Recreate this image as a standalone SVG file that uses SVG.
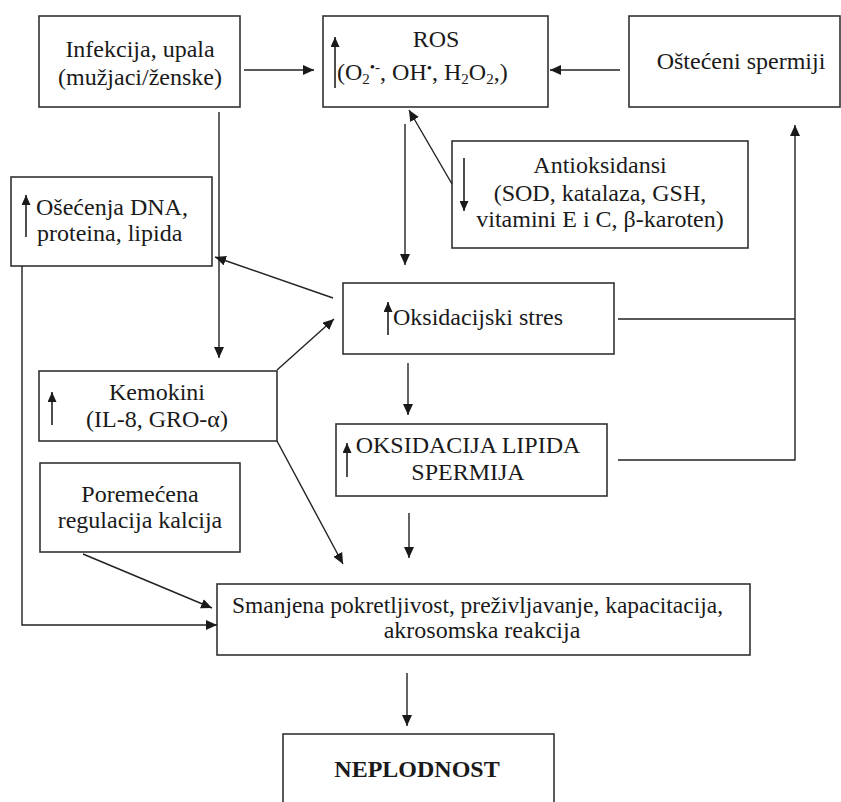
<svg xmlns="http://www.w3.org/2000/svg" width="841" height="802" viewBox="0 0 841 802">
<defs>
<marker id="ah" markerUnits="userSpaceOnUse" markerWidth="11" markerHeight="10" refX="11" refY="5" orient="auto">
<path d="M0,0 L11,5 L0,10 z" fill="#1a1a1a"/>
</marker>
<marker id="sh" markerUnits="userSpaceOnUse" markerWidth="10" markerHeight="9" refX="10" refY="4.5" orient="auto">
<path d="M0,0 L10,4.5 L0,9 z" fill="#1a1a1a"/>
</marker>
<style>
.box{fill:#fff;stroke:#333;stroke-width:1.6}
text{font-family:'Liberation Serif','DejaVu Serif',serif;font-size:24px;fill:#1a1a1a}
.m{text-anchor:middle}
.b{font-weight:bold}
.c{fill:none;stroke:#222;stroke-width:1.4}
.ia{fill:none;stroke:#222;stroke-width:1.6;marker-end:url(#sh)}
.sub{font-size:15px}
</style>
</defs>
<rect width="841" height="802" fill="#fff"/>

<g id="infekcija" font-family="Liberation Serif, serif">
<rect class="box" x="39" y="16" width="201" height="91"/>
<text class="m" x="140" y="57">Infekcija, upala</text>
<text class="m" x="140" y="85">(mužjaci/ženske)</text>
</g>

<g id="ros">
<rect class="box" x="323" y="16" width="225" height="91"/>
<line class="ia" x1="335" y1="88" x2="335" y2="37"/>
<text class="m" x="436" y="47">ROS</text>
<text x="337" y="80">(O<tspan class="sub" dy="4">2</tspan><tspan class="sub" dy="-12">•-</tspan><tspan dy="8">, OH</tspan><tspan class="sub" dy="-7">•</tspan><tspan dy="7">, H</tspan><tspan class="sub" dy="4">2</tspan><tspan dy="-4">O</tspan><tspan class="sub" dy="4">2</tspan><tspan dy="-4">,)</tspan></text>
</g>

<g id="osteceni">
<rect class="box" x="629" y="16" width="211" height="91"/>
<text class="m" x="741" y="69">Oštećeni spermiji</text>
</g>

<g id="antioksidansi">
<rect class="box" x="452" y="141" width="296" height="107"/>
<line class="ia" x1="464" y1="158" x2="464" y2="211"/>
<text class="m" x="600" y="173">Antioksidansi</text>
<text class="m" x="600" y="201">(SOD, katalaza, GSH,</text>
<text class="m" x="600" y="227">vitamini E i C, β-karoten)</text>
</g>

<g id="osecenja">
<rect class="box" x="11" y="177" width="201" height="89"/>
<line class="ia" x1="26" y1="237" x2="26" y2="195"/>
<text x="36" y="215">Ošećenja DNA,</text>
<text x="37" y="241">proteina, lipida</text>
</g>

<g id="oksidacijski-stres">
<rect class="box" x="343" y="283" width="271" height="71"/>
<line class="ia" x1="388" y1="335" x2="388" y2="302"/>
<text x="393" y="325">Oksidacijski stres</text>
</g>

<g id="kemokini">
<rect class="box" x="39" y="371" width="238" height="70"/>
<line class="ia" x1="52" y1="425" x2="52" y2="392"/>
<text class="m" x="157" y="400">Kemokini</text>
<text class="m" x="157" y="427">(IL-8, GRO-α)</text>
</g>

<g id="oksidacija-lipida">
<rect class="box" x="336" y="424" width="271" height="72"/>
<line class="ia" x1="347" y1="477" x2="347" y2="443"/>
<text class="m" x="468" y="453">OKSIDACIJA LIPIDA</text>
<text class="m" x="468" y="480">SPERMIJA</text>
</g>

<g id="poremecena">
<rect class="box" x="40" y="463" width="200" height="89"/>
<text class="m" x="140" y="502">Poremećena</text>
<text class="m" x="140" y="528">regulacija kalcija</text>
</g>

<g id="smanjena">
<rect class="box" x="217" y="584" width="533" height="71"/>
<text x="232" y="613" textLength="491" lengthAdjust="spacingAndGlyphs">Smanjena pokretljivost, preživljavanje, kapacitacija,</text>
<text class="m" x="482" y="638">akrosomska reakcija</text>
</g>

<g id="neplodnost">
<rect class="box" x="283" y="734" width="271" height="80"/>
<text class="m b" x="417" y="777">NEPLODNOST</text>
</g>

<g id="connectors">
<line class="c" x1="244" y1="70" x2="314" y2="70" marker-end="url(#ah)"/>
<line class="c" x1="620" y1="70" x2="550" y2="70" marker-end="url(#ah)"/>
<line class="c" x1="219" y1="112" x2="219" y2="358" marker-end="url(#ah)"/>
<line class="c" x1="405" y1="124" x2="405" y2="265" marker-end="url(#ah)"/>
<line class="c" x1="452" y1="184" x2="409" y2="110" marker-end="url(#ah)"/>
<line class="c" x1="333" y1="298" x2="215" y2="257" marker-end="url(#ah)"/>
<line class="c" x1="277" y1="370" x2="334" y2="319" marker-end="url(#ah)"/>
<line class="c" x1="408" y1="363" x2="408" y2="415" marker-end="url(#ah)"/>
<path class="c" d="M618,319 H795"/>
<path class="c" d="M618,460 H795 V125" marker-end="url(#ah)"/>
<line class="c" x1="277" y1="441" x2="343" y2="564" marker-end="url(#ah)"/>
<line class="c" x1="409" y1="513" x2="409" y2="558" marker-end="url(#ah)"/>
<line class="c" x1="83" y1="554" x2="212" y2="608" marker-end="url(#ah)"/>
<path class="c" d="M22,266 V625 H217" marker-end="url(#ah)"/>
<line class="c" x1="407" y1="673" x2="407" y2="726" marker-end="url(#ah)"/>
</g>
</svg>
